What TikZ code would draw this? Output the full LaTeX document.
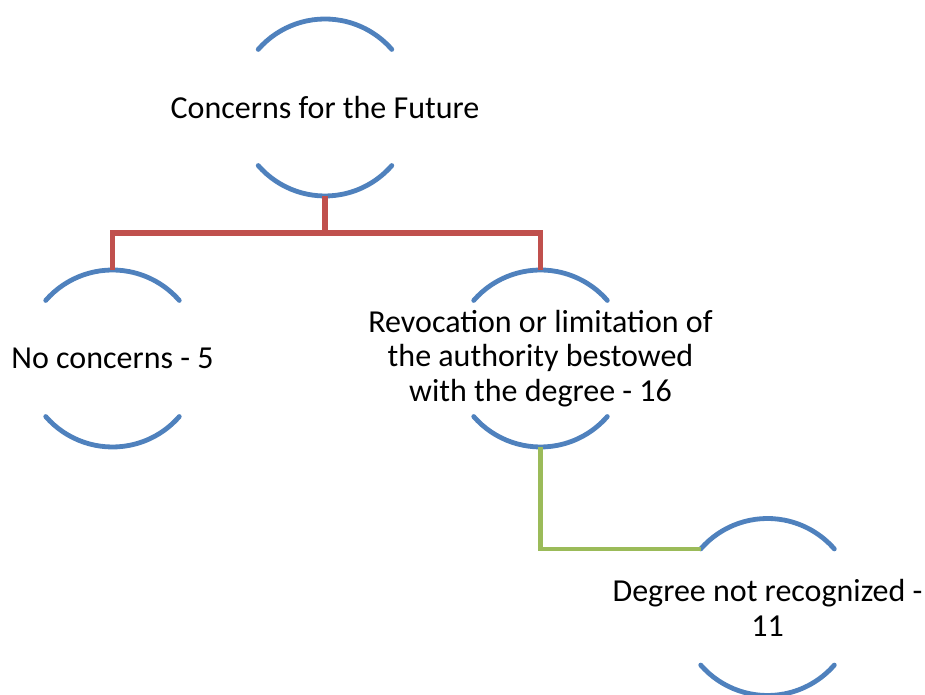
\documentclass[tikz,border=0pt]{standalone}
\usepackage{fontspec}
\setmainfont{Carlito}
\definecolor{arcblue}{HTML}{4F81BD}
\definecolor{linkred}{HTML}{C0504D}
\definecolor{linkgreen}{HTML}{9BBB59}
\tikzset{
  holder/.style={circle,minimum size=177pt,inner sep=0pt,outer sep=0pt},
  label/.style={font=\fontsize{32}{34.5}\selectfont,align=center,inner sep=0pt},
  halfarc/.style={draw=arcblue,line width=4.8pt,line cap=round},
  redlink/.style={draw=linkred,line width=5.5pt},
  greenlink/.style={draw=linkgreen,line width=4.8pt}
}
\newcommand{\ringarcs}[1]{%
  \draw[halfarc] (#1.139) arc[start angle=139,end angle=41,radius=88.5pt];
  \draw[halfarc] (#1.221) arc[start angle=221,end angle=319,radius=88.5pt];
}
\begin{document}
\begin{tikzpicture}[x=1pt,y=1pt]
\useasboundingbox (0,0) rectangle (925,695);
\node[holder] (n1) at (325,587.5) {};
\node[holder] (n2) at (112.5,336.5) {};
\node[holder] (n3) at (540.5,336.5) {};
\node[holder] (n4) at (767.5,88) {};
\ringarcs{n1}
\ringarcs{n2}
\ringarcs{n3}
\ringarcs{n4}
\node[label] (t1) at (n1.center) {Concerns for the Future};
\node[label] (t2) at (n2.center) {No concerns - 5};
\node[label] (t3) at (n3.center) {Revocation or limitation of\\the authority bestowed\\with the degree - 16};
\node[label] (t4) at ([yshift=-1pt]n4.center) {Degree not recognized -\\11};
\draw[redlink] (n1.south) -- ++(0,-37) coordinate (j);
\draw[redlink] (j) -| (n2.north);
\draw[redlink] (j) -| (n3.north);
\draw[greenlink] (n3.south) |- (n4.139);
\end{tikzpicture}
\end{document}
